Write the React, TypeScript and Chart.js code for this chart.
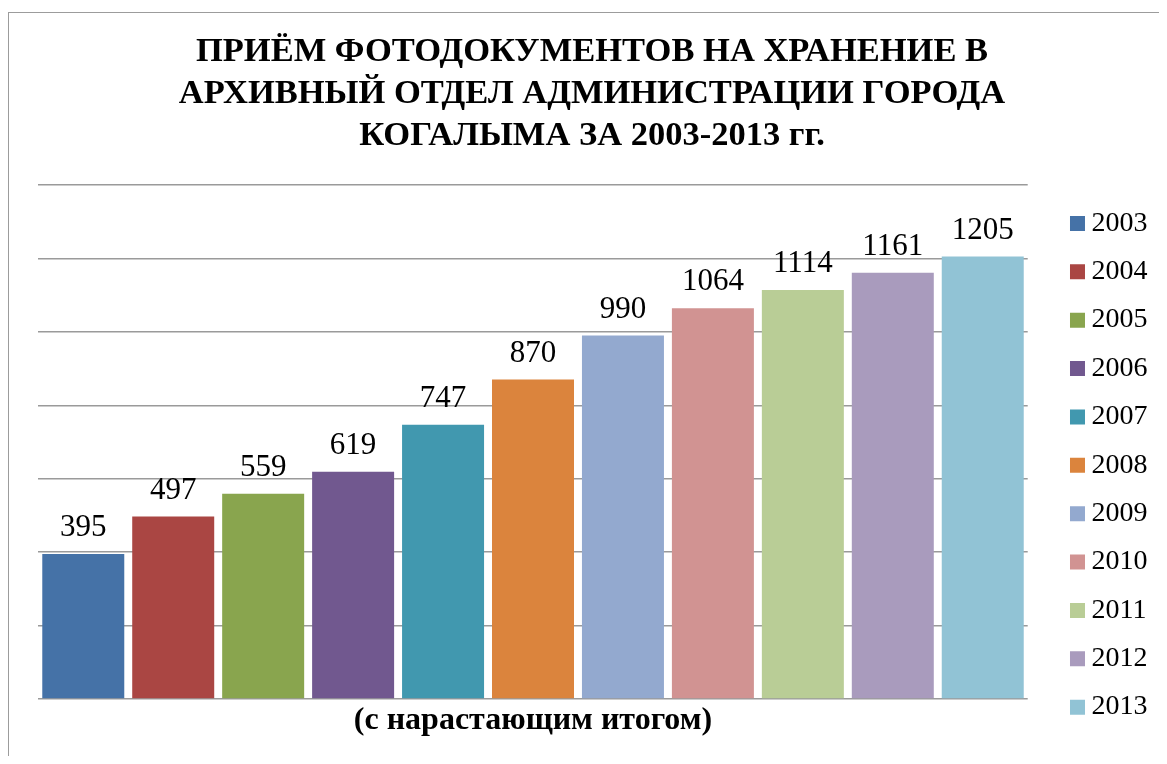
import React, { useEffect, useRef } from 'react';
import { Chart, registerables } from 'chart.js';

Chart.register(...registerables);

const YEARS = ['2003', '2004', '2005', '2006', '2007', '2008', '2009', '2010', '2011', '2012', '2013'];
const VALUES = [395, 497, 559, 619, 747, 870, 990, 1064, 1114, 1161, 1205];
const COLORS = [
  '#4572A7', '#AA4643', '#89A54E', '#71588F', '#4198AF', '#DB843D',
  '#93A9CF', '#D19392', '#B9CD96', '#A99BBD', '#91C3D5',
];
const CATEGORIES = [''];
const TITLE_LINES = [
  'ПРИЁМ ФОТОДОКУМЕНТОВ НА ХРАНЕНИЕ В',
  'АРХИВНЫЙ ОТДЕЛ АДМИНИСТРАЦИИ ГОРОДА',
  'КОГАЛЫМА ЗА 2003-2013 гг.',
];
const X_TITLE = '(с нарастающим итогом)';
const Y_MIN = 0;
const Y_MAX = 1400;
const Y_STEP = 200;

const SERIF = '"Liberation Serif", "Times New Roman", serif';

const valueLabels = {
  id: 'valueLabels',
  afterDatasetsDraw(chart: any) {
    const ctx = chart.ctx;
    ctx.save();
    ctx.font = `31px ${SERIF}`;
    ctx.fillStyle = '#000';
    ctx.textAlign = 'center';
    ctx.textBaseline = 'alphabetic';
    chart.data.datasets.forEach((ds: any, i: number) => {
      const meta = chart.getDatasetMeta(i);
      meta.data.forEach((el: any, j: number) => {
        ctx.fillText(String(ds.data[j]), el.x, el.y - 18);
      });
    });
    ctx.restore();
  },
};

export default function App() {
  const ref = useRef<HTMLCanvasElement | null>(null);

  useEffect(() => {
    if (!ref.current) return;
    const chart = new Chart(ref.current, {
      type: 'bar',
      data: {
        labels: CATEGORIES,
        datasets: YEARS.map((y, i) => ({
          label: y,
          data: [VALUES[i]],
          backgroundColor: COLORS[i],
          borderWidth: 0,
          categoryPercentage: 1,
          barPercentage: 0.9116,
        })),
      },
      options: {
        responsive: false,
        animation: false,
        devicePixelRatio: 1,
        layout: { padding: { left: 18.5, right: 1.5, top: 0, bottom: 14.5 } },
        plugins: {
          tooltip: { enabled: false },
          title: {
            display: true,
            text: TITLE_LINES,
            color: '#000',
            font: { family: SERIF, size: 34.5, weight: 'bold', lineHeight: 41.7 / 34.5 },
            padding: { top: 18.65, bottom: 28.25 },
          },
          legend: {
            display: true,
            position: 'right',
            align: 'end',
            labels: {
              usePointStyle: true,
              pointStyle: 'rect',
              boxWidth: 0.01,
              boxHeight: 15,
              padding: 20.375,
              color: '#000',
              font: { family: SERIF, size: 28 },
            },
          },
        },
        scales: {
          x: {
            type: 'category',
            ticks: { display: false },
            grid: { display: false, drawTicks: false },
            border: { display: false },
            title: {
              display: true,
              text: X_TITLE,
              color: '#000',
              font: { family: SERIF, size: 32, weight: 'bold', lineHeight: 1.2 },
              padding: { top: 2.7, bottom: 1.4 },
            },
          },
          y: {
            type: 'linear',
            position: 'left',
            min: Y_MIN,
            max: Y_MAX,
            ticks: { display: false, stepSize: Y_STEP },
            grid: {
              color: '#9a9a9a',
              lineWidth: 1.5,
              drawTicks: true,
              tickLength: 11.8,
              tickColor: 'rgba(0,0,0,0)',
            },
            border: { display: false },
          },
          yGap: {
            type: 'linear',
            position: 'right',
            display: true,
            ticks: { display: false },
            grid: {
              drawOnChartArea: false,
              drawTicks: true,
              tickLength: 29.4,
              color: 'rgba(0,0,0,0)',
              tickColor: 'rgba(0,0,0,0)',
            },
            border: { display: false },
          },
        },
      },
      plugins: [valueLabels],
    } as any);
    return () => chart.destroy();
  }, []);

  return (
    <div style={{ position: 'relative', height: 748 }}>
      <div
        style={{
          position: 'absolute',
          left: 0,
          top: 4,
          width: 1151,
          height: 744,
          boxSizing: 'border-box',
          borderLeft: '1px solid #9c9c9c',
          borderTop: '1px solid #9c9c9c',
        }}
      />
      <canvas
        ref={ref}
        width={1151}
        height={743}
        style={{ position: 'absolute', left: 0, top: 5, display: 'block' }}
      />
    </div>
  );
}
